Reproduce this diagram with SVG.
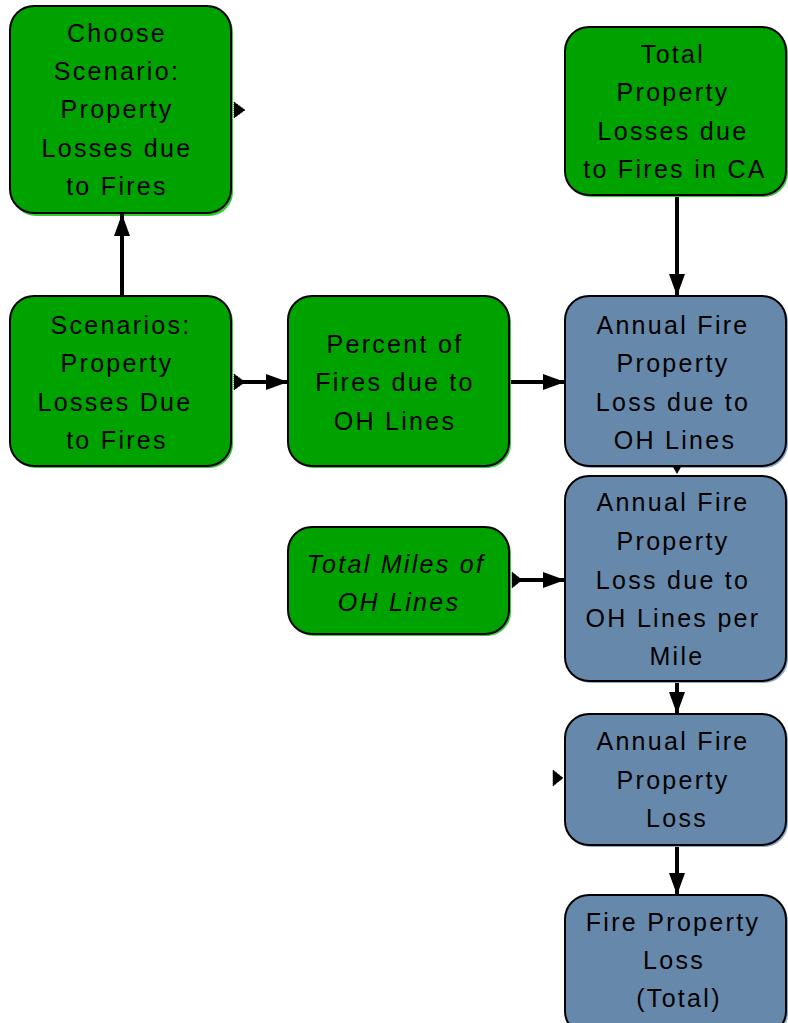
<svg xmlns="http://www.w3.org/2000/svg" width="788" height="1023" viewBox="0 0 788 1023">
<style>
.g{fill:#00a200;stroke:#000;stroke-width:2}
.gs{fill:#33cc33}
.b{fill:#6688ab;stroke:#000;stroke-width:2}
.bs{fill:#8aabcc}
text{font-family:"Liberation Sans",Arial,sans-serif;font-size:25px;letter-spacing:2.3px;fill:#000;text-anchor:middle}
.i{font-style:italic}
.c{stroke:#000;stroke-width:4;fill:none}
.gh{fill:#000;stroke:#000;stroke-width:1;stroke-dasharray:1,1}
</style>
<defs>
<marker id="ah" markerWidth="22" markerHeight="16" refX="22" refY="8" orient="auto" markerUnits="userSpaceOnUse" overflow="visible">
<path d="M0,0 L22,8 L0,16 Z" fill="#000"/>
</marker>
</defs>
<rect width="788" height="1023" fill="#fff"/>
<g id="n-choose">
<rect class="gs" x="12" y="8" width="221" height="208" rx="24"/>
<rect class="g" x="10" y="6" width="221" height="207" rx="24"/>
<text x="117" y="42">Choose</text>
<text x="117" y="80">Scenario:</text>
<text x="117" y="118">Property</text>
<text x="117" y="157">Losses due</text>
<text x="117" y="195">to Fires</text>
</g>
<g id="n-totalca">
<rect class="gs" x="567" y="29" width="221" height="168" rx="24"/>
<rect class="g" x="565" y="27" width="221" height="168" rx="24"/>
<text x="673" y="63">Total</text>
<text x="673" y="101">Property</text>
<text x="673" y="140">Losses due</text>
<text x="675" y="178">to Fires in CA</text>
</g>
<g id="n-scenarios">
<rect class="gs" x="12" y="298" width="221" height="170" rx="24"/>
<rect class="g" x="10" y="296" width="221" height="170" rx="24"/>
<text x="121" y="334">Scenarios:</text>
<text x="117" y="372">Property</text>
<text x="115" y="411">Losses Due</text>
<text x="117" y="449">to Fires</text>
</g>
<g id="n-percent">
<rect class="gs" x="290" y="298" width="221" height="170" rx="24"/>
<rect class="g" x="288" y="296" width="221" height="170" rx="24"/>
<text x="395" y="353">Percent of</text>
<text x="395" y="391">Fires due to</text>
<text x="395" y="430">OH Lines</text>
</g>
<g id="n-annualoh">
<rect class="bs" x="567" y="298" width="221" height="170" rx="24"/>
<rect class="b" x="565" y="296" width="221" height="170" rx="24"/>
<text x="673" y="334">Annual Fire</text>
<text x="673" y="372">Property</text>
<text x="673" y="411">Loss due to</text>
<text x="675" y="449">OH Lines</text>
</g>
<g id="n-miles">
<rect class="gs" x="290" y="529" width="221" height="107" rx="24"/>
<rect class="g" x="288" y="527" width="221" height="107" rx="24"/>
<text class="i" x="396" y="573">Total Miles of</text>
<text class="i" x="399" y="611">OH Lines</text>
</g>
<g id="n-permile">
<rect class="bs" x="567" y="478" width="221" height="205" rx="24"/>
<rect class="b" x="565" y="476" width="221" height="205" rx="24"/>
<text x="673" y="511">Annual Fire</text>
<text x="673" y="550">Property</text>
<text x="673" y="589">Loss due to</text>
<text x="673" y="627">OH Lines per</text>
<text x="677" y="665">Mile</text>
</g>
<g id="n-annual">
<rect class="bs" x="567" y="716" width="221" height="131" rx="24"/>
<rect class="b" x="565" y="714" width="221" height="131" rx="24"/>
<text x="673" y="750">Annual Fire</text>
<text x="673" y="789">Property</text>
<text x="677" y="827">Loss</text>
</g>
<g id="n-total">
<rect class="bs" x="567" y="897" width="221" height="140" rx="24"/>
<rect class="b" x="565" y="895" width="221" height="140" rx="24"/>
<text x="673" y="931">Fire Property</text>
<text x="674" y="969">Loss</text>
<text x="679" y="1007">(Total)</text>
</g>
<g id="connectors">
<line class="c" x1="122" y1="296" x2="122" y2="214" marker-end="url(#ah)"/>
<line class="c" x1="240" y1="382" x2="288" y2="382" marker-end="url(#ah)"/>
<line class="c" x1="511" y1="382" x2="565" y2="382" marker-end="url(#ah)"/>
<line class="c" x1="677" y1="197" x2="677" y2="296" marker-end="url(#ah)"/>
<path d="M673,467 L681,467 L677,474 Z" fill="#000"/>
<line class="c" x1="517" y1="580" x2="565" y2="580" marker-end="url(#ah)"/>
<line class="c" x1="677" y1="683" x2="677" y2="714" marker-end="url(#ah)"/>
<line class="c" x1="677" y1="847" x2="677" y2="895" marker-end="url(#ah)"/>
<path class="gh" d="M234,102 L245,110 L234,118 Z"/>
<path class="gh" d="M234,374 L245,382 L234,390 Z"/>
<path class="gh" d="M512,572 L522,580 L512,588 Z"/>
<path class="gh" d="M553,770 L563,778 L553,786 Z"/>
</g>
</svg>
